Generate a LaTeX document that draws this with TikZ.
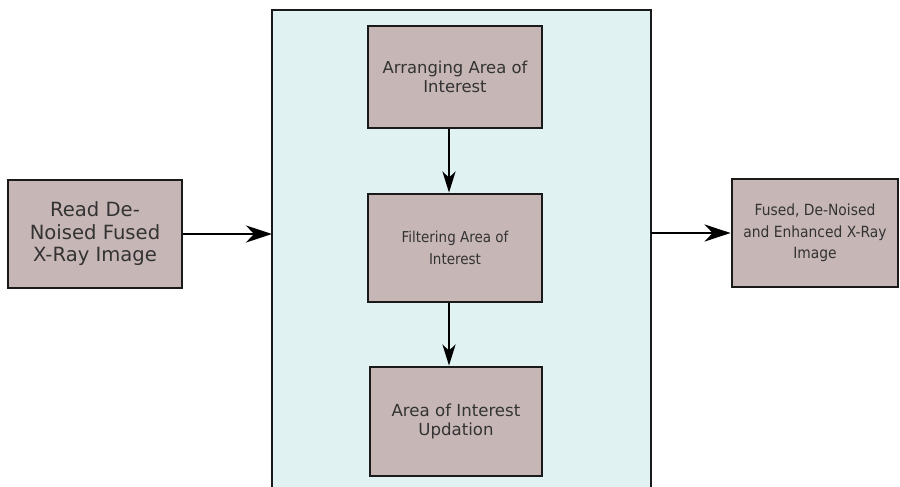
\documentclass[tikz,border=0pt]{standalone}
\usepackage{fontspec}
\setmainfont{DejaVu Sans}
\newfontfamily\narrowfont{DejaVu Sans Condensed}
\usetikzlibrary{arrows.meta}
\definecolor{boxfill}{HTML}{C7B6B6}
\definecolor{panelfill}{HTML}{E0F2F2}
\definecolor{edge}{HTML}{1A1A1A}
\tikzset{
  x=1pt, y=-1pt,
  stagebox/.style={draw=edge, line width=2.8pt, fill=boxfill, align=center,
    text=black!80, inner sep=0pt},
  flow/.style={draw=black, line width=2.8pt,
    -{Stealth[length=26pt, width=17pt, inset=8pt]}},
  downflow/.style={draw=black, line width=2.8pt,
    -{Stealth[length=21pt, width=13pt, inset=6pt]}},
}
\begin{document}
\begin{tikzpicture}
\useasboundingbox (0,0) rectangle (900,487);
\begin{scope}
\clip (0,0) rectangle (900,487);
% processing panel (runs past the lower edge)
\draw[draw=edge, line width=2.6pt, fill=panelfill] (272,520) -- (272,10) -- (651,10) -- (651,520);
% input and output blocks
\node[stagebox, minimum width=174pt, minimum height=108pt,
  font=\fontsize{19.6}{22.5}\selectfont] (read) at (95,234) {Read De-\\Noised Fused\\X-Ray Image};
\node[stagebox, minimum width=166pt, minimum height=108pt,
  font=\narrowfont\fontsize{15.4}{21.5}\selectfont] (result) at (815,233) {Fused, De-Noised\\and Enhanced X-Ray\\Image};
% stages inside the panel
\node[stagebox, minimum width=174pt, minimum height=102pt,
  font=\fontsize{16.4}{18.5}\selectfont] (arrange) at (455,77) {Arranging Area of\\Interest};
\node[stagebox, minimum width=174pt, minimum height=108pt,
  font=\narrowfont\fontsize{15}{22}\selectfont] (filter) at (455,248) {Filtering Area of\\Interest};
\node[stagebox, minimum width=172pt, minimum height=109pt,
  font=\fontsize{16.6}{18.5}\selectfont] (update) at (456,421.5) {Area of Interest\\Updation};
\coordinate (panelL) at (272,234);
\coordinate (panelR) at (651,233);
% connectors
\draw[flow] (read.east) -- (panelL);
\draw[flow] (panelR) -- (result.west);
\draw[downflow] (arrange.south -| 449,0) -- (filter.north -| 449,0);
\draw[downflow] (filter.south -| 449,0) -- (update.north -| 449,0);
\end{scope}
\end{tikzpicture}
\end{document}
